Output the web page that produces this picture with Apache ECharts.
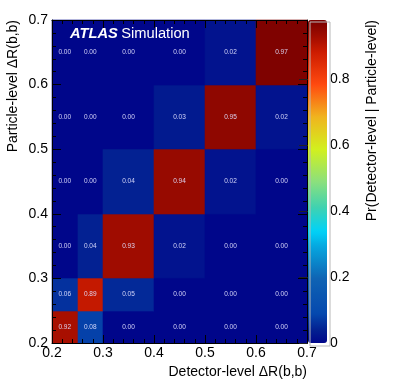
<!DOCTYPE html>
<html>
<head>
<meta charset="utf-8">
<script src="https://cdn.jsdelivr.net/npm/echarts@6/dist/echarts.min.js"></script>
<style>
  html, body { margin: 0; padding: 0; background: #fff; }
  #main { width: 399px; height: 386px; }
</style>
</head>
<body>
<div id="main"></div>
<script>
// bin edges (detector-level on x, particle-level on y)
var xEdges = [0.2, 0.25, 0.3, 0.4, 0.5, 0.6, 0.7];
var yEdges = [0.2, 0.25, 0.3, 0.4, 0.5, 0.6, 0.7];

// migration matrix, one row per particle-level bin, bottom row first
var row1 = [0.92, 0.08, 0.00, 0.00, 0.00, 0.00];
var row2 = [0.06, 0.89, 0.05, 0.00, 0.00, 0.00];
var row3 = [0.00, 0.04, 0.93, 0.02, 0.00, 0.00];
var row4 = [0.00, 0.00, 0.04, 0.94, 0.02, 0.00];
var row5 = [0.00, 0.00, 0.00, 0.03, 0.95, 0.02];
var row6 = [0.00, 0.00, 0.00, 0.00, 0.02, 0.97];
var rows = [row1, row2, row3, row4, row5, row6];

var zMax = 0.978;

// rainbow palette stops (fraction of zMax, colour)
var palStops = [
  [0.00, [0, 6, 138]],
  [0.04, [3, 32, 145]],
  [0.09, [5, 72, 174]],
  [0.20, [15, 100, 180]],
  [0.30, [5, 168, 224]],
  [0.345, [0, 210, 248]],
  [0.42, [64, 210, 176]],
  [0.50, [140, 224, 124]],
  [0.60, [210, 240, 30]],
  [0.70, [240, 180, 30]],
  [0.80, [255, 74, 16]],
  [0.90, [205, 28, 0]],
  [0.95, [160, 12, 0]],
  [1.00, [120, 0, 0]]
];
function palColor(f) {
  for (var i = 1; i < palStops.length; i++) {
    if (f <= palStops[i][0]) {
      var a = palStops[i - 1], b = palStops[i];
      var t = (f - a[0]) / (b[0] - a[0]);
      var c = [0, 1, 2].map(function (k) { return Math.round(a[1][k] + (b[1][k] - a[1][k]) * t); });
      return 'rgb(' + c.join(',') + ')';
    }
  }
  return 'rgb(120,0,0)';
}
var palette = [];
for (var i = 0; i <= 100; i++) palette.push(palColor(i / 100));

var cells = [];
for (var r = 0; r < rows.length; r++) {
  for (var c = 0; c < rows[r].length; c++) {
    cells.push([xEdges[c], xEdges[c + 1], yEdges[r], yEdges[r + 1], rows[r][c]]);
  }
}

var font = 'Liberation Sans, Arial, Helvetica, sans-serif';
var myChart = echarts.init(document.getElementById('main'));

var tickFmt = function (v) { return (+v).toFixed(1); };

var option = {
  backgroundColor: '#fff',
  animation: false,
  textStyle: { fontFamily: font },
  grid: [
    { left: 52, top: 20, width: 255, height: 323 },
    { left: 308, top: 20, width: 19, height: 323 }
  ],
  xAxis: [{
    type: 'value', gridIndex: 0, min: 0.2, max: 0.7, interval: 0.1, position: 'bottom',
    axisLine: { lineStyle: { color: '#000', width: 1 } },
    axisTick: { inside: true, length: 8, lineStyle: { color: '#000' } },
    minorTick: { show: true, splitNumber: 5, length: 4, lineStyle: { color: '#000' } },
    axisLabel: { fontSize: 14, color: '#000', margin: 3, formatter: tickFmt, fontFamily: font },
    splitLine: { show: false }, z: 5
  }, {
    type: 'value', gridIndex: 0, min: 0.2, max: 0.7, interval: 0.1, position: 'top',
    axisLine: { lineStyle: { color: '#000', width: 1 } },
    axisTick: { inside: true, length: 8, lineStyle: { color: '#000' } },
    minorTick: { show: true, splitNumber: 5, length: 4, lineStyle: { color: '#000' } },
    axisLabel: { show: false }, splitLine: { show: false }, z: 5
  }, {
    type: 'value', gridIndex: 1, min: 0, max: 1, show: false
  }],
  yAxis: [{
    type: 'value', gridIndex: 0, min: 0.2, max: 0.7, interval: 0.1, position: 'left',
    axisLine: { lineStyle: { color: '#000', width: 1 } },
    axisTick: { inside: true, length: 9, lineStyle: { color: '#000' } },
    minorTick: { show: true, splitNumber: 5, length: 4, lineStyle: { color: '#000' } },
    axisLabel: { fontSize: 14, color: '#000', margin: 4, formatter: tickFmt, fontFamily: font },
    splitLine: { show: false }, z: 5
  }, {
    type: 'value', gridIndex: 0, min: 0.2, max: 0.7, interval: 0.1, position: 'right',
    axisLine: { lineStyle: { color: '#000', width: 1 } },
    axisTick: { inside: true, length: 9, lineStyle: { color: '#000' } },
    minorTick: { show: true, splitNumber: 5, length: 4, lineStyle: { color: '#000' } },
    axisLabel: { show: false }, splitLine: { show: false }, z: 5
  }, {
    type: 'value', gridIndex: 1, min: 0, max: zMax, interval: 0.2, position: 'right',
    axisLine: { show: false },
    axisTick: { inside: true, length: 9, lineStyle: { color: '#222' } },
    axisLabel: {
      fontSize: 14, color: '#000', margin: 3, showMaxLabel: false, fontFamily: font,
      formatter: function (v) { return v === 0 ? '0' : (+v).toFixed(1); }
    },
    splitLine: { show: false }, z: 10
  }],
  visualMap: {
    type: 'continuous',
    min: 0, max: zMax,
    dimension: 4,
    seriesIndex: 0,
    calculable: false,
    orient: 'vertical',
    left: 308, top: 20,
    padding: 0,
    itemWidth: 19, itemHeight: 323,
    inRange: { color: palette },
    z: 4
  },
  graphic: [
    {
      type: 'rect', left: 307.5, top: 19.5, z: 20, silent: true,
      shape: { width: 20, height: 324 },
      style: { fill: 'none', stroke: '#b8b8b8', lineWidth: 1 }
    },
    {
      type: 'text', left: 70, top: 26, z: 20,
      style: {
        text: '{a|ATLAS} {b|Simulation}',
        rich: {
          a: { fontSize: 14.7, fontWeight: 'bold', fontStyle: 'italic', fill: '#fff', fontFamily: font },
          b: { fontSize: 14.7, fill: '#fff', fontFamily: font }
        }
      }
    },
    {
      type: 'text', x: 13, y: 20, rotation: Math.PI / 2, z: 20,
      style: {
        text: 'Particle-level ΔR(b,b)', fontSize: 14, fill: '#000', fontFamily: font,
        align: 'right', verticalAlign: 'middle'
      }
    },
    {
      type: 'text', x: 307, y: 372, z: 20,
      style: {
        text: 'Detector-level ΔR(b,b)', fontSize: 14, fill: '#000', fontFamily: font,
        align: 'right', verticalAlign: 'middle'
      }
    },
    {
      type: 'text', x: 372, y: 20, rotation: Math.PI / 2, z: 20,
      style: {
        text: 'Pr(Detector-level | Particle-level)', fontSize: 14, fill: '#000', fontFamily: font,
        align: 'right', verticalAlign: 'middle'
      }
    }
  ],
  series: [{
    type: 'custom',
    xAxisIndex: 0, yAxisIndex: 0,
    data: cells,
    encode: { x: [0, 1], y: [2, 3] },
    renderItem: function (params, api) {
      var p0 = api.coord([api.value(0), api.value(2)]);
      var p1 = api.coord([api.value(1), api.value(3)]);
      var x0 = Math.round(p0[0]), x1 = Math.round(p1[0]);
      var y0 = Math.round(p0[1]), y1 = Math.round(p1[1]);
      var v = api.value(4);
      var col = api.visual('color');
      return {
        type: 'group',
        children: [{
          type: 'rect',
          shape: { x: x0, y: y1, width: x1 - x0, height: y0 - y1 },
          style: { fill: col, stroke: col, lineWidth: 0.6 }
        }, {
          type: 'text',
          x: (p0[0] + p1[0]) / 2, y: (p0[1] + p1[1]) / 2,
          style: {
            text: v.toFixed(2), fontSize: 6.5, fill: 'rgba(225,225,255,0.9)', fontFamily: font,
            align: 'center', verticalAlign: 'middle'
          }
        }]
      };
    }
  }]
};

myChart.setOption(option, true);
</script>
</body>
</html>
